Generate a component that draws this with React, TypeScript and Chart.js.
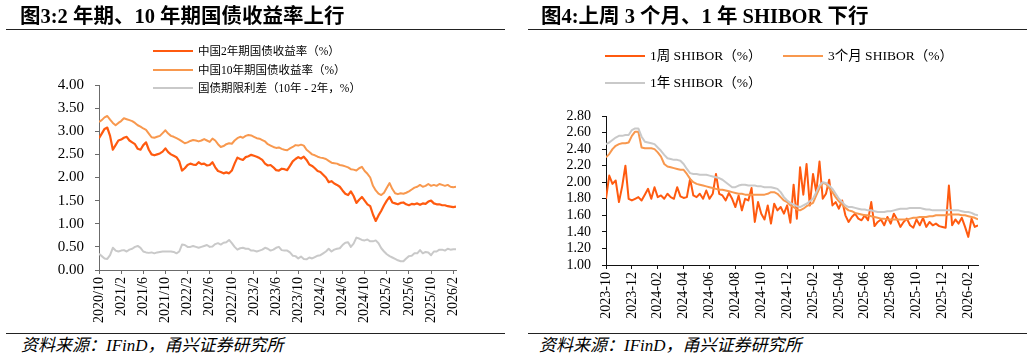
import React, { useEffect, useRef } from 'react';
import { Chart, registerables } from 'chart.js';

Chart.register(...registerables);

// ---------------- Left chart data (one point every half month from 2020/10) ----------------
const LEFT_STEP_MONTHS = 0.5;
const LEFT_TICK_EVERY_MONTHS = 4;
const LEFT_X_LABELS = [
  '2020/10', '2021/2', '2021/6', '2021/10', '2022/2', '2022/6', '2022/10', '2023/2', '2023/6',
  '2023/10', '2024/2', '2024/6', '2024/10', '2025/2', '2025/6', '2025/10', '2026/2',
];
const LEFT_Y_TICKS = [0, 0.5, 1, 1.5, 2, 2.5, 3, 3.5, 4];

const CN_2Y = [
  2.85, 2.95, 3.05, 3.08, 2.90, 2.60, 2.70, 2.80, 2.82, 2.86,
  2.88, 2.80, 2.76, 2.72, 2.62, 2.60, 2.70, 2.76, 2.60, 2.50,
  2.48, 2.50, 2.52, 2.56, 2.63, 2.55, 2.50, 2.47, 2.44, 2.35,
  2.15, 2.20, 2.27, 2.30, 2.28, 2.27, 2.33, 2.29, 2.30, 2.26,
  2.27, 2.33, 2.22, 2.14, 2.12, 2.09, 2.11, 2.09, 2.15, 2.30,
  2.43, 2.40, 2.38, 2.44, 2.46, 2.49, 2.47, 2.45, 2.42, 2.38,
  2.30, 2.26, 2.27, 2.22, 2.16, 2.15, 2.19, 2.18, 2.16, 2.25,
  2.35, 2.40, 2.44, 2.41, 2.45, 2.38, 2.28, 2.25, 2.20, 2.14,
  2.12, 2.06, 2.00, 1.90, 1.92, 1.87, 1.84, 1.80, 1.72, 1.65,
  1.62, 1.70, 1.60, 1.45, 1.52, 1.58, 1.50, 1.42, 1.38, 1.20,
  1.06, 1.18, 1.28, 1.40, 1.50, 1.58, 1.46, 1.44, 1.42, 1.45,
  1.46, 1.42, 1.40, 1.43, 1.42, 1.44, 1.41, 1.44, 1.43, 1.48,
  1.50, 1.44, 1.42, 1.42, 1.40, 1.40, 1.38, 1.37, 1.36, 1.37,
];

const CN_10Y = [
  3.20, 3.24, 3.30, 3.33, 3.25, 3.18, 3.13, 3.18, 3.22, 3.28,
  3.26, 3.24, 3.22, 3.18, 3.13, 3.10, 3.06, 3.03, 2.95, 2.87,
  2.86, 2.88, 2.90, 2.96, 3.02, 2.95, 2.90, 2.88, 2.85, 2.82,
  2.78, 2.74, 2.76, 2.79, 2.81, 2.80, 2.78, 2.80, 2.83, 2.80,
  2.77, 2.84, 2.80, 2.72, 2.66, 2.68, 2.72, 2.74, 2.73, 2.80,
  2.85, 2.88, 2.86, 2.90, 2.92, 2.91, 2.88, 2.85, 2.84, 2.81,
  2.78, 2.72, 2.69, 2.66, 2.64, 2.65, 2.62, 2.60, 2.59, 2.63,
  2.66, 2.70, 2.69, 2.71, 2.69, 2.60, 2.55, 2.50, 2.48, 2.45,
  2.43, 2.42, 2.40, 2.36, 2.32, 2.31, 2.30, 2.27, 2.26, 2.24,
  2.22, 2.18, 2.17, 2.15, 2.20, 2.23, 2.14, 2.08, 2.00, 1.82,
  1.72, 1.65, 1.62, 1.67, 1.78, 1.88, 1.75, 1.66, 1.64, 1.66,
  1.65, 1.67, 1.70, 1.74, 1.78, 1.80, 1.84, 1.80, 1.82, 1.86,
  1.82, 1.84, 1.82, 1.86, 1.84, 1.82, 1.84, 1.80, 1.79, 1.80,
];

const CN_SPREAD = [
  0.35, 0.30, 0.25, 0.24, 0.32, 0.48, 0.42, 0.40, 0.42, 0.43,
  0.40, 0.44, 0.46, 0.50, 0.52, 0.48, 0.40, 0.38, 0.37, 0.38,
  0.36, 0.38, 0.39, 0.40, 0.40, 0.40, 0.40, 0.39, 0.36, 0.40,
  0.55, 0.54, 0.50, 0.50, 0.52, 0.50, 0.48, 0.50, 0.52, 0.54,
  0.50, 0.51, 0.56, 0.58, 0.55, 0.59, 0.60, 0.65, 0.58, 0.50,
  0.44, 0.47, 0.48, 0.46, 0.46, 0.42, 0.42, 0.40, 0.42, 0.44,
  0.48, 0.46, 0.42, 0.44, 0.48, 0.50, 0.43, 0.42, 0.42, 0.38,
  0.31, 0.30, 0.25, 0.29, 0.24, 0.23, 0.27, 0.25, 0.28, 0.31,
  0.32, 0.36, 0.40, 0.46, 0.40, 0.44, 0.46, 0.47, 0.54, 0.59,
  0.60, 0.50, 0.57, 0.70, 0.68, 0.65, 0.64, 0.66, 0.62, 0.62,
  0.64, 0.58, 0.47, 0.40, 0.34, 0.30, 0.27, 0.24, 0.21, 0.19,
  0.19, 0.25, 0.30, 0.31, 0.36, 0.36, 0.43, 0.36, 0.39, 0.38,
  0.32, 0.40, 0.40, 0.44, 0.44, 0.42, 0.46, 0.44, 0.45, 0.45,
];

// ---------------- Right chart data (one point every quarter month from 2023-10) ----------------
const RIGHT_STEP_MONTHS = 0.25;
const RIGHT_TICK_EVERY_MONTHS = 2;
const RIGHT_X_LABELS = [
  '2023-10', '2023-12', '2024-02', '2024-04', '2024-06', '2024-08', '2024-10', '2024-12',
  '2025-02', '2025-04', '2025-06', '2025-08', '2025-10', '2025-12', '2026-02',
];
const RIGHT_Y_TICKS = [1.0, 1.2, 1.4, 1.6, 1.8, 2.0, 2.2, 2.4, 2.6, 2.8];

const SHIBOR_1W = [
  1.80, 2.08, 1.98, 2.02, 1.76, 1.95, 2.20, 1.80,
  1.78, 1.80, 1.82, 1.78, 1.85, 1.92, 1.80, 1.94,
  1.82, 1.84, 1.80, 1.86, 1.82, 1.80, 1.94, 1.83,
  1.81, 1.82, 2.04, 1.84, 1.82, 1.86, 1.80, 1.90,
  1.80, 1.86, 2.10, 1.86, 1.84, 1.78, 1.87, 1.80,
  1.70, 1.84, 1.66, 1.80, 1.78, 1.93, 1.52, 1.76,
  1.62, 1.55, 1.72, 1.50, 1.74, 1.66, 1.70, 1.62,
  1.72, 1.51, 1.97, 1.56, 2.18, 1.85, 2.22, 1.72,
  2.10, 1.88, 2.25, 1.80, 1.86, 2.03, 1.72, 1.76,
  1.68, 1.78, 1.60, 1.52, 1.58, 1.62, 1.56, 1.54,
  1.60, 1.54, 1.76, 1.47, 1.52, 1.55, 1.48, 1.58,
  1.50, 1.62, 1.55, 1.46, 1.52, 1.56, 1.48, 1.45,
  1.55, 1.48, 1.57, 1.46, 1.52, 1.48, 1.50, 1.47,
  1.46, 1.45, 1.96, 1.48, 1.55, 1.50, 1.57, 1.46,
  1.34, 1.56, 1.46, 1.48,
];

const SHIBOR_3M = [
  2.30, 2.34, 2.40, 2.44, 2.46, 2.47, 2.47, 2.48,
  2.56, 2.61, 2.61, 2.42, 2.41, 2.41, 2.41, 2.40,
  2.36, 2.31, 2.22, 2.19, 2.18, 2.17, 2.16, 2.15,
  2.15, 2.10, 2.04, 2.00, 1.98, 1.97, 1.96, 1.95,
  1.94, 1.93, 1.92, 1.91, 1.91, 1.90, 1.89, 1.88,
  1.87, 1.86, 1.86, 1.85, 1.85, 1.85, 1.85, 1.85,
  1.85, 1.85, 1.86, 1.88, 1.88, 1.86, 1.82, 1.78,
  1.76, 1.72, 1.70, 1.67, 1.66, 1.68, 1.71, 1.73,
  1.75, 1.84, 1.93, 1.99, 1.98, 1.93, 1.88, 1.82,
  1.77, 1.73, 1.69, 1.66, 1.65, 1.63, 1.62, 1.61,
  1.60, 1.60, 1.59, 1.58, 1.57, 1.56, 1.56, 1.55,
  1.55, 1.55, 1.55, 1.55, 1.55, 1.55, 1.56, 1.57,
  1.57, 1.58, 1.58, 1.58, 1.59, 1.59, 1.60, 1.60,
  1.60, 1.60, 1.61, 1.61, 1.61, 1.61, 1.60, 1.60,
  1.59, 1.58, 1.57, 1.55,
];

const SHIBOR_1Y = [
  2.46, 2.48, 2.51, 2.54, 2.56, 2.56, 2.57, 2.57,
  2.63, 2.65, 2.65, 2.55, 2.49, 2.48, 2.47, 2.46,
  2.42, 2.38, 2.33, 2.29, 2.28, 2.27, 2.27, 2.26,
  2.22, 2.16, 2.11, 2.10, 2.10, 2.09, 2.09, 2.09,
  2.08, 2.07, 2.06, 2.05, 2.03, 2.00, 1.97, 1.94,
  1.94, 1.96, 1.97, 1.97, 1.96, 1.96, 1.96, 1.95,
  1.95, 1.94, 1.94, 1.94, 1.93, 1.92, 1.88, 1.82,
  1.78, 1.75, 1.73, 1.71, 1.70, 1.72, 1.74, 1.77,
  1.80, 1.88, 1.96, 2.00, 1.99, 1.96, 1.92, 1.86,
  1.80, 1.76, 1.72, 1.70, 1.70, 1.69, 1.68, 1.67,
  1.67, 1.66, 1.66, 1.65, 1.64, 1.64, 1.64, 1.65,
  1.65, 1.66, 1.67, 1.68, 1.68, 1.68, 1.69, 1.69,
  1.69, 1.69, 1.68, 1.67, 1.67, 1.66, 1.66, 1.66,
  1.66, 1.66, 1.66, 1.66, 1.66, 1.66, 1.65, 1.64,
  1.64, 1.63, 1.61, 1.60,
];

// ---------------- Styling ----------------
const SERIF = '"Liberation Serif", "Times New Roman", "Noto Sans CJK SC", serif';
const DARK_ORANGE = '#FF5A0F';
const LIGHT_ORANGE = '#F8984E';
const GREY = '#C9C9C9';

type SeriesDef = { label: string; data: number[]; color: string; width: number; order: number };

type ChartProps = {
  left: number;
  series: SeriesDef[];
  step: number;
  tickEvery: number;
  xLabels: string[];
  yTicks: number[];
  yFontSize: number;
  yAxisWidth: number;
  xAxisHeight: number;
  padTop: number;
  padRight: number;
  padBottom: number;
  axisColor: string;
};

const CANVAS_W = 516;
const CANVAS_H = 330;

function LineChart(p: ChartProps) {
  const ref = useRef<HTMLCanvasElement>(null);
  useEffect(() => {
    if (!ref.current) return;
    const n = Math.max(...p.series.map((s) => s.data.length));
    const zeroPad = (s: any) => {
      s.paddingLeft = 0;
      s.paddingRight = 0;
      s.paddingTop = 0;
      s.paddingBottom = 0;
    };
    const chart = new Chart(ref.current, {
      type: 'line',
      data: {
        datasets: p.series.map((s) => ({
          label: s.label,
          data: s.data.map((v, i) => ({ x: i * p.step, y: v })),
          borderColor: s.color,
          backgroundColor: s.color,
          borderWidth: s.width,
          pointRadius: 0,
          tension: 0,
          fill: false,
          order: s.order,
          borderJoinStyle: 'round' as const,
        })),
      },
      options: {
        animation: false,
        responsive: false,
        events: [],
        layout: { padding: { left: 0, top: p.padTop, right: p.padRight, bottom: p.padBottom } },
        plugins: { legend: { display: false }, tooltip: { enabled: false }, title: { display: false } },
        scales: {
          x: {
            type: 'linear',
            min: 0,
            max: (n - 1) * p.step,
            afterBuildTicks: (s: any) => {
              s.ticks = p.xLabels.map((_, i) => ({ value: i * p.tickEvery }));
            },
            afterFit: (s: any) => {
              s.height = p.xAxisHeight;
              zeroPad(s);
            },
            ticks: {
              autoSkip: false,
              minRotation: 90,
              maxRotation: 90,
              padding: 3,
              color: '#000',
              font: { family: SERIF, size: 14 },
              callback: (_v: any, i: number) => p.xLabels[i],
            },
            grid: { display: true, drawOnChartArea: false, drawTicks: true, tickLength: 4, color: p.axisColor, lineWidth: 1 },
            border: { display: true, color: p.axisColor, width: 1 },
          },
          y: {
            type: 'linear',
            min: p.yTicks[0],
            max: p.yTicks[p.yTicks.length - 1],
            afterBuildTicks: (s: any) => {
              s.ticks = p.yTicks.map((v) => ({ value: v }));
            },
            afterFit: (s: any) => {
              s.width = p.yAxisWidth;
              zeroPad(s);
            },
            ticks: {
              autoSkip: false,
              padding: 11,
              color: '#000',
              font: { family: SERIF, size: p.yFontSize },
              callback: (v: any) => Number(v).toFixed(2),
            },
            grid: { display: true, drawOnChartArea: false, drawTicks: true, tickLength: 4, color: p.axisColor, lineWidth: 1 },
            border: { display: true, color: p.axisColor, width: 1 },
          },
        },
      },
    } as any);
    return () => chart.destroy();
  }, []);
  return (
    <canvas
      ref={ref}
      width={CANVAS_W}
      height={CANVAS_H}
      style={{ position: 'absolute', left: p.left, top: 0, width: CANVAS_W, height: CANVAS_H }}
    />
  );
}

function LegendItem(props: { x: number; y: number; color: string; text: string; size: number }) {
  return (
    <div
      style={{
        position: 'absolute',
        left: props.x,
        top: props.y - 10,
        height: 20,
        display: 'flex',
        alignItems: 'center',
        whiteSpace: 'nowrap',
      }}
    >
      <span style={{ display: 'inline-block', width: 40, height: 2, background: props.color, marginRight: 5 }} />
      <span style={{ fontFamily: SERIF, fontSize: props.size, color: '#000', lineHeight: '20px' }}>{props.text}</span>
    </div>
  );
}

function HLine(props: { x1: number; x2: number; y: number }) {
  return (
    <div
      style={{ position: 'absolute', left: props.x1, top: props.y, width: props.x2 - props.x1, height: 1, background: '#222' }}
    />
  );
}

function Title(props: { x: number; text: string }) {
  return (
    <div
      style={{
        position: 'absolute',
        left: props.x,
        top: 6,
        fontFamily: SERIF,
        fontWeight: 'bold',
        fontSize: 20.5,
        lineHeight: '21px',
        color: '#000',
        whiteSpace: 'nowrap',
      }}
    >
      {props.text}
    </div>
  );
}

function Footer(props: { x: number }) {
  return (
    <div
      style={{
        position: 'absolute',
        left: props.x,
        top: 336,
        fontFamily: SERIF,
        fontStyle: 'italic',
        fontSize: 17,
        lineHeight: '20px',
        color: '#000',
        whiteSpace: 'nowrap',
      }}
    >
      资料来源：IFinD，甬兴证券研究所
    </div>
  );
}

export default function App() {
  return (
    <div style={{ position: 'absolute', left: 0, top: 0, width: 1032, height: 360, background: '#fff', overflow: 'hidden' }}>
      <LineChart
        left={0}
        series={[
          { label: '中国2年期国债收益率（%）', data: CN_2Y, color: DARK_ORANGE, width: 2.2, order: 0 },
          { label: '中国10年期国债收益率（%）', data: CN_10Y, color: LIGHT_ORANGE, width: 2, order: 1 },
          { label: '国债期限利差（10年 - 2年，%）', data: CN_SPREAD, color: GREY, width: 2, order: 2 },
        ]}
        step={LEFT_STEP_MONTHS}
        tickEvery={LEFT_TICK_EVERY_MONTHS}
        xLabels={LEFT_X_LABELS}
        yTicks={LEFT_Y_TICKS}
        yFontSize={15}
        yAxisWidth={99}
        xAxisHeight={55}
        padTop={85}
        padRight={60}
        padBottom={5}
        axisColor="#6b6b6b"
      />
      <LineChart
        left={516}
        series={[
          { label: '1周 SHIBOR（%）', data: SHIBOR_1W, color: DARK_ORANGE, width: 2, order: 2 },
          { label: '3个月 SHIBOR（%）', data: SHIBOR_3M, color: LIGHT_ORANGE, width: 2, order: 1 },
          { label: '1年 SHIBOR（%）', data: SHIBOR_1Y, color: GREY, width: 2, order: 0 },
        ]}
        step={RIGHT_STEP_MONTHS}
        tickEvery={RIGHT_TICK_EVERY_MONTHS}
        xLabels={RIGHT_X_LABELS}
        yTicks={RIGHT_Y_TICKS}
        yFontSize={14}
        yAxisWidth={90}
        xAxisHeight={60}
        padTop={116}
        padRight={54}
        padBottom={5}
        axisColor="#111"
      />

      <Title x={20} text="图3:2 年期、10 年期国债收益率上行" />
      <Title x={541} text="图4:上周 3 个月、1 年 SHIBOR 下行" />
      <HLine x1={6} x2={505} y={29} />
      <HLine x1={528} x2={1027} y={29} />

      <LegendItem x={153} y={51} color={DARK_ORANGE} text="中国2年期国债收益率（%）" size={11.5} />
      <LegendItem x={153} y={69.5} color={LIGHT_ORANGE} text="中国10年期国债收益率（%）" size={11.5} />
      <LegendItem x={153} y={88} color={GREY} text="国债期限利差（10年 - 2年，%）" size={11.5} />

      <LegendItem x={605} y={56} color={DARK_ORANGE} text="1周 SHIBOR（%）" size={13.5} />
      <LegendItem x={783} y={56} color={LIGHT_ORANGE} text="3个月 SHIBOR（%）" size={13.5} />
      <LegendItem x={605} y={83} color={GREY} text="1年 SHIBOR（%）" size={13.5} />

      <HLine x1={6} x2={505} y={333} />
      <HLine x1={528} x2={1027} y={333} />
      <Footer x={21} />
      <Footer x={539} />
    </div>
  );
}
